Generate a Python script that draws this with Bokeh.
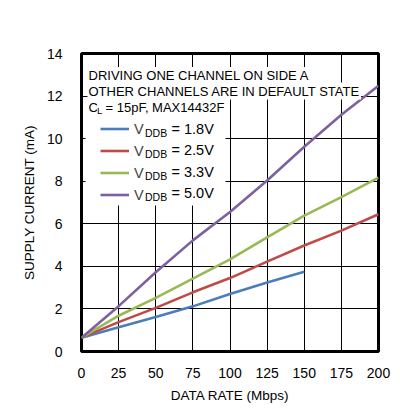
from bokeh.plotting import figure
from bokeh.models import Label, Legend, LegendItem, Range1d, FixedTicker, BoxAnnotation
from bokeh.embed import file_html
from bokeh.resources import INLINE

# ---- data ----
rate_18 = [0, 25, 50, 75, 100, 125, 150]
i_18 = [0.65, 1.14, 1.62, 2.12, 2.70, 3.24, 3.75]
rate = [0, 25, 50, 75, 100, 125, 150, 175, 200]
i_25 = [0.65, 1.38, 2.05, 2.78, 3.45, 4.22, 4.98, 5.68, 6.45]
i_33 = [0.65, 1.68, 2.52, 3.42, 4.33, 5.36, 6.38, 7.25, 8.17]
i_50 = [0.65, 2.13, 3.72, 5.22, 6.55, 8.03, 9.62, 11.12, 12.48]
x_ticks = [0, 25, 50, 75, 100, 125, 150, 175, 200]
y_ticks = [0, 2, 4, 6, 8, 10, 12, 14]
series_labels = ["= 1.8V", "= 2.5V", "= 3.3V", "= 5.0V"]
colors = ["#4a7ebb", "#be4b48", "#98b954", "#7d60a0"]

FONT = "Liberation Sans"

W, H = 392, 405
FL, FR, FT, FB = 81, 378, 53, 351   # frame edges in picture pixels

p = figure(width=W, height=H, output_backend="svg", toolbar_location=None,
           x_range=Range1d(0, 200), y_range=Range1d(0, 14),
           min_border_left=FL, min_border_right=W - FR, min_border_top=FT,
           min_border_bottom=H - FB)
p.title = None
p.outline_line_color = "black"
p.outline_line_width = 3
p.background_fill_color = "white"
p.border_fill_color = "white"

# helpers converting picture pixels to data coords (for text placement only)
def dx(px):
    return (px - FL) * 200.0 / (FR - FL)

def dy(py):
    return (FB - py) * 14.0 / (FB - FT)

for ax in (p.xaxis[0], p.yaxis[0]):
    ax.axis_line_color = None
    ax.major_tick_line_color = None
    ax.minor_tick_line_color = None
    ax.major_label_text_font = FONT
    ax.major_label_text_font_size = "14px"
    ax.major_label_text_color = "black"
    ax.axis_label_text_font = FONT
    ax.axis_label_text_font_size = "13.5px"
    ax.axis_label_text_font_style = "normal"
    ax.axis_label_text_color = "black"

p.xaxis[0].ticker = FixedTicker(ticks=x_ticks)
p.yaxis[0].ticker = FixedTicker(ticks=y_ticks)
p.xaxis[0].major_label_standoff = 10
p.yaxis[0].major_label_standoff = 13
p.xaxis[0].axis_label = "DATA RATE (Mbps)"
p.yaxis[0].axis_label = "SUPPLY CURRENT (mA)"
p.xaxis[0].axis_label_standoff = 7
p.yaxis[0].axis_label_standoff = 7

p.xgrid.ticker = FixedTicker(ticks=x_ticks)
p.ygrid.ticker = FixedTicker(ticks=y_ticks)
for g in (p.xgrid[0], p.ygrid[0]):
    g.grid_line_color = "black"
    g.grid_line_width = 1
    g.grid_line_alpha = 1

r1 = p.line(rate_18, i_18, line_color=colors[0], line_width=2.6)
r2 = p.line(rate, i_25, line_color=colors[1], line_width=2.6)
r3 = p.line(rate, i_33, line_color=colors[2], line_width=2.6)
r4 = p.line(rate, i_50, line_color=colors[3], line_width=2.6)

# white panel behind the legend (hides the grid as in the reference)
p.add_layout(BoxAnnotation(left=dx(85), right=dx(225), top=dy(115), bottom=dy(205),
                           fill_color="white", fill_alpha=1.0, line_color=None))

legend = Legend(items=[LegendItem(label="V", renderers=[r]) for r in (r1, r2, r3, r4)],
                location=(15, 142), orientation="vertical",
                glyph_width=29, glyph_height=21, label_height=21, label_width=20,
                spacing=1, padding=4, margin=0, label_standoff=5,
                label_text_font=FONT, label_text_font_size="14.5px",
                background_fill_alpha=0.0, border_line_alpha=0)
p.add_layout(legend, "center")

def lab(px, py, text, size, style="normal", align="left", baseline="alphabetic", bg=True, pad=1):
    kw = dict(x=dx(px), y=dy(py), text=text, text_font=FONT, text_font_size=size,
              text_font_style=style, text_align=align, text_baseline=baseline,
              text_color="black", level="overlay")
    if bg:
        kw.update(background_fill_color="white", background_fill_alpha=1.0, padding=pad)
    l = Label(**kw)
    p.add_layout(l)
    return l

# text box lines (white backgrounds hide gridlines, as in the reference)
lab(87, 75, "DRIVING ONE CHANNEL ON SIDE A", "13px")
lab(87, 90.5, "OTHER CHANNELS ARE IN DEFAULT STATE", "13px")
lab(87, 107, "C", "13px")
lab(96.5, 110, "L", "9.5px", pad=0)
lab(104, 107, "= 15pF, MAX14432F", "13px")

# legend subscripts and values (aligned on the legend rows)
row_centers = [128.0, 149.5, 171.0, 192.5]
for c, t in zip(row_centers, series_labels):
    lab(144.5, c + 4.0, "DDB", "10.5px", baseline="middle", bg=False)
    lab(171, c, t, "14.5px", baseline="middle", bg=False)

# title
lab(232, 26.5, "SIDE B SUPPLY CURRENT", "16.5px", style="bold", align="center", bg=False)
lab(226, 46, "vs. DATA RATE", "16.5px", style="bold", align="center", bg=False)
lab(378, 49.5, "toc15", "9.5px", align="right", bg=False)

open("out.html", "w").write(file_html(p, INLINE))
